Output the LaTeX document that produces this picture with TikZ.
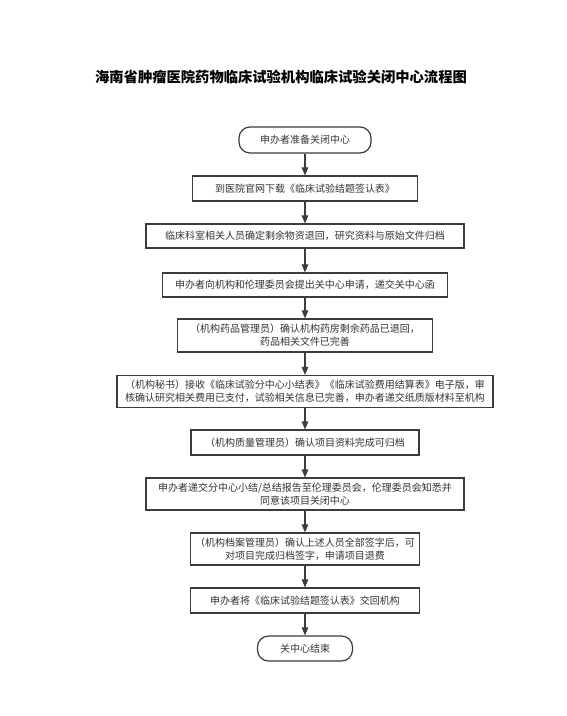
\documentclass[tikz,border=0pt]{standalone}
\usepackage{fontspec}
\setmainfont{Noto Sans CJK SC}
\usetikzlibrary{arrows.meta}
\definecolor{linec}{HTML}{3C3C3C}
\definecolor{textc}{HTML}{333333}
\tikzset{
  box/.style={draw=linec, line width=1.2pt, fill=white, text=textc,
    font=\fontsize{10}{12.8}\selectfont, align=center, inner sep=0pt},
  term/.style={box, rounded corners=11pt},
  arr/.style={draw=linec, line width=1.1pt, -{Triangle[length=8pt,width=6.5pt]}}
}
\begin{document}
\begin{tikzpicture}[x=1pt,y=-1pt]
\useasboundingbox[fill=white] (0,0) rectangle (567,716);
\node[font=\fontsize{14.3}{16}\selectfont\bfseries, text=black] (title) at (281,77) {海南省肿瘤医院药物临床试验机构临床试验关闭中心流程图};
\node[term, minimum width=132pt, minimum height=26pt] (n1) at (305,140) {申办者准备关闭中心};
\node[box, minimum width=225pt, minimum height=25pt] (n2) at (305,188.5) {到医院官网下载《临床试验结题签认表》};
\node[box, minimum width=318pt, minimum height=24pt] (n3) at (305,236) {临床科室相关人员确定剩余物资退回，研究资料与原始文件归档};
\node[box, minimum width=285pt, minimum height=24pt] (n4) at (305,285) {申办者向机构和伦理委员会提出关中心申请，递交关中心函};
\node[box, minimum width=255pt, minimum height=33pt] (n5) at (305,335.5) {（机构药品管理员）确认机构药房剩余药品已退回，\\药品相关文件已完善};
\node[box, minimum width=376pt, minimum height=32pt] (n6) at (305,391.5) {（机构秘书）接收《临床试验分中心小结表》《临床试验费用结算表》电子版，审\\核确认研究相关费用已支付，试验相关信息已完善，申办者递交纸质版材料至机构};
\node[box, minimum width=228pt, minimum height=25pt] (n7) at (305,442.5) {（机构质量管理员）确认项目资料完成可归档};
\node[box, minimum width=318pt, minimum height=32pt] (n8) at (305,494) {申办者递交分中心小结/总结报告至伦理委员会，伦理委员会知悉并\\同意该项目关闭中心};
\node[box, minimum width=229pt, minimum height=32pt] (n9) at (305,549) {（机构档案管理员）确认上述人员全部签字后，可\\对项目完成归档签字，申请项目退费};
\node[box, minimum width=229pt, minimum height=25pt] (n10) at (305,600.5) {申办者将《临床试验结题签认表》交回机构};
\node[term, minimum width=95pt, minimum height=25pt] (n11) at (305,648.5) {关中心结束};
\foreach \a/\b in {n1/n2,n2/n3,n3/n4,n4/n5,n5/n6,n6/n7,n7/n8,n8/n9,n9/n10,n10/n11}
  \draw[arr] (\a) -- (\b);
\end{tikzpicture}
\end{document}
